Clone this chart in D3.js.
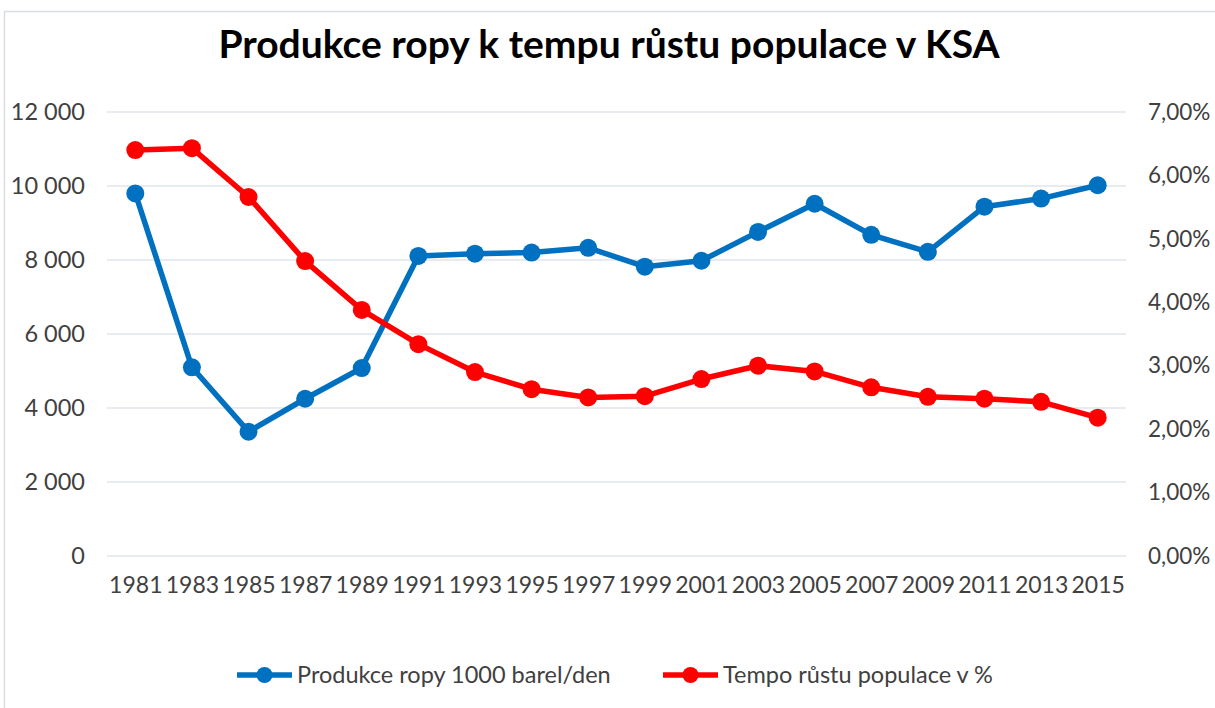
<!DOCTYPE html>
<html>
<head>
<meta charset="utf-8">
<script src="https://cdn.jsdelivr.net/npm/d3@7"></script>
<style>
  body { margin: 0; background: #fff; }
  text { font-family: Lato, "Open Sans", sans-serif; }
</style>
</head>
<body>
<div id="chart"></div>
<script>
// data
var years = ["1981","1983","1985","1987","1989","1991","1993","1995","1997","1999",
             "2001","2003","2005","2007","2009","2011","2013","2015"];
var oil = [9800, 5100, 3360, 4250, 5080, 8110, 8170, 8200, 8330, 7820,
           7980, 8760, 9520, 8680, 8220, 9440, 9660, 10020];
var popGrowth = [6.40, 6.43, 5.66, 4.65, 3.88, 3.34, 2.90, 2.63, 2.50, 2.52,
                 2.79, 3.00, 2.91, 2.66, 2.51, 2.48, 2.43, 2.18];
var leftTicks = [0, 2000, 4000, 6000, 8000, 10000, 12000];
var rightTicks = [0, 1, 2, 3, 4, 5, 6, 7];
var seriesNames = ["Produkce ropy 1000 barel/den", "Tempo růstu populace v %"];
var title = "Produkce ropy k tempu růstu populace v KSA";

var W = 1215, H = 708;
var blue = "#0070c0", red = "#ff0000";
var textCol = "#404040";

var cz = d3.formatLocale({decimal: ",", thousands: " ", grouping: [3], currency: ["", ""]});
var fmtLeft = cz.format(",d");
var fmtRight = function(d) { return cz.format(".2f")(d) + "%"; };

var svg = d3.select("#chart").append("svg")
    .attr("width", W)
    .attr("height", H);

// chart border
svg.append("rect")
    .attr("x", 4.5).attr("y", 11.5)
    .attr("width", W + 10).attr("height", H + 10)
    .attr("fill", "#fff")
    .attr("stroke", "#d9dde3")
    .attr("stroke-width", 1.5);

// scales
var x = d3.scalePoint().domain(years).range([107, 1126]).padding(0.5);
var yL = d3.scaleLinear().domain([0, 12000]).range([556, 112]);
var yR = d3.scaleLinear().domain([0, 7]).range([556, 112]);

// gridlines
svg.append("g")
    .selectAll("line")
    .data(leftTicks)
    .join("line")
    .attr("x1", 107).attr("x2", 1126)
    .attr("y1", function(d) { return yL(d); })
    .attr("y2", function(d) { return yL(d); })
    .attr("stroke", "#e1e5ea")
    .attr("stroke-width", 1.5);

// left axis
var gL = svg.append("g")
    .attr("transform", "translate(85,0)")
    .call(d3.axisLeft(yL).tickValues(leftTicks).tickFormat(fmtLeft).tickSize(0).tickPadding(0));
gL.select(".domain").remove();
gL.selectAll("text")
    .attr("fill", textCol)
    .attr("font-size", 23.5)
    .attr("font-family", "Lato, sans-serif");

// right axis
var gR = svg.append("g")
    .attr("transform", "translate(1148,0)")
    .call(d3.axisRight(yR).tickValues(rightTicks).tickFormat(fmtRight).tickSize(0).tickPadding(0));
gR.select(".domain").remove();
gR.selectAll("text")
    .attr("fill", textCol)
    .attr("font-size", 22.5)
    .attr("font-family", "Lato, sans-serif");

// x axis labels
var gX = svg.append("g")
    .attr("transform", "translate(0,577)")
    .call(d3.axisBottom(x).tickSize(0).tickPadding(0));
gX.select(".domain").remove();
gX.selectAll("text")
    .attr("fill", textCol)
    .attr("font-size", 23)
    .attr("font-family", "Lato, sans-serif");

// series
function drawSeries(values, yScale, color) {
    var pts = years.map(function(yr, i) { return [x(yr), yScale(values[i])]; });
    svg.append("path")
        .datum(pts)
        .attr("fill", "none")
        .attr("stroke", color)
        .attr("stroke-width", 5.5)
        .attr("stroke-linejoin", "round")
        .attr("d", d3.line());
    svg.append("g")
        .selectAll("circle")
        .data(pts)
        .join("circle")
        .attr("cx", function(d) { return d[0]; })
        .attr("cy", function(d) { return d[1]; })
        .attr("r", 9)
        .attr("fill", color);
}
drawSeries(oil, yL, blue);
drawSeries(popGrowth, yR, red);

// title
svg.append("text")
    .attr("x", 609)
    .attr("y", 58)
    .attr("text-anchor", "middle")
    .attr("font-size", 39)
    .attr("font-weight", "bold")
    .attr("fill", "#000")
    .text(title);

// legend
var legend = [
    {name: seriesNames[0], color: blue, x: 237},
    {name: seriesNames[1], color: red, x: 663}
];
var lg = svg.append("g").selectAll("g")
    .data(legend)
    .join("g")
    .attr("transform", function(d) { return "translate(" + d.x + ",675)"; });
lg.append("line")
    .attr("x1", 0).attr("x2", 55)
    .attr("stroke", function(d) { return d.color; })
    .attr("stroke-width", 5.5);
lg.append("circle")
    .attr("cx", 27.5)
    .attr("r", 8)
    .attr("fill", function(d) { return d.color; });
lg.append("text")
    .attr("x", 60)
    .attr("dy", "0.35em")
    .attr("font-size", 23.5)
    .attr("fill", textCol)
    .text(function(d) { return d.name; });
</script>
</body>
</html>
